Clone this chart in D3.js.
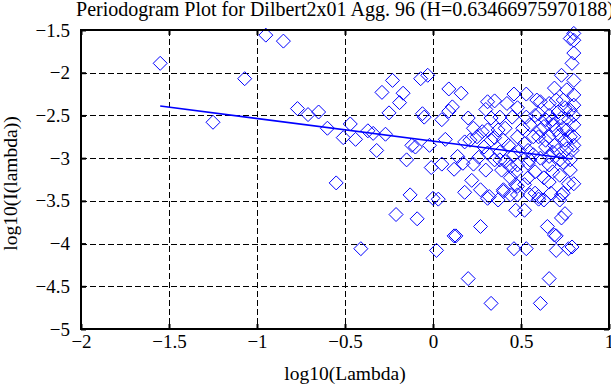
<!DOCTYPE html>
<html>
<head>
<meta charset="utf-8">
<script src="https://cdn.jsdelivr.net/npm/d3@7"></script>
<style>
  body { margin: 0; background: #fff; }
  svg { display: block; }
</style>
</head>
<body>
<div id="chart"></div>
<script>
// periodogram points (log10 of lambda, log10 of I(lambda))
var logLambda = [
  -1.55, -1.25, -1.07, -0.95, -0.85, -0.77, -0.71, -0.65, -0.60, -0.55,
  -0.51, -0.47, -0.44, -0.41, -0.37, -0.34, -0.32, -0.29, -0.27, -0.25,
  -0.23, -0.21, -0.19, -0.17, -0.15, -0.13, -0.12, -0.10, -0.09, -0.07,
  -0.03, -0.06, -0.05, -0.02, -0.01, 0.00, 0.03, 0.02, 0.05, 0.05,
  0.07, 0.09, 0.09, 0.11, 0.12, 0.12, 0.13, 0.14, 0.16, 0.17,
  0.18, 0.18, 0.20, 0.20, 0.22, 0.23, 0.23, 0.25, 0.27, 0.26,
  0.28, 0.30, 0.31, 0.29, 0.31, 0.35, 0.46, 0.53, 0.59, 0.42,
  0.48, 0.33, 0.38, 0.45, 0.53, 0.31, 0.37, 0.40, 0.33, 0.48,
  0.52, 0.57, 0.31, 0.38, 0.46, 0.49, 0.57, 0.41, 0.44, 0.48,
  0.54, 0.39, 0.47, 0.58, 0.47, 0.52, 0.40, 0.32, 0.44, 0.48,
  0.55, 0.47, 0.52, 0.46, 0.53, 0.33, 0.61, 0.65, 0.78, 0.79,
  0.73, 0.69, 0.76, 0.61, 0.66, 0.74, 0.78, 0.60, 0.66, 0.71,
  0.77, 0.63, 0.68, 0.74, 0.60, 0.66, 0.72, 0.78, 0.64, 0.69,
  0.76, 0.61, 0.66, 0.72, 0.68, 0.66, 0.77, 0.60, 0.67, 0.73,
  0.75, 0.73, 0.69, 0.70, 0.70, 0.77, 0.66, 0.80, 0.80, 0.80,
  0.80, 0.80, 0.80, 0.80, 0.80, 0.79, 0.58, 0.60, 0.63, 0.72,
  0.74, 0.48, 0.37, 0.40, 0.64, 0.70, 0.75, 0.68, 0.79, 0.73,
  0.55, 0.54, 0.41, 0.35, 0.21, 0.80, 0.64, 0.66, 0.71, 0.74,
  0.76, 0.78, 0.80, 0.55, 0.51, 0.43, 0.35, 0.61, 0.68, 0.58,
  0.75, 0.80, 0.70, 0.78, 0.72, 0.63, 0.54, 0.44, 0.38, 0.30,
  0.27
];
var logI = [
  -1.89, -2.58, -2.07, -1.56, -1.63, -2.42, -2.49, -2.46, -2.65, -3.29,
  -2.76, -2.60, -2.78, -4.06, -2.68, -2.71, -2.91, -2.23, -2.72, -2.47,
  -2.09, -3.66, -2.35, -2.24, -3.02, -3.43, -2.85, -2.87, -3.71, -2.07,
  -2.03, -2.48, -2.52, -2.85, -3.11, -3.47, -3.48, -4.08, -3.07, -2.55,
  -2.78, -2.19, -2.45, -2.40, -3.13, -3.91, -3.91, -2.98, -2.24, -3.06,
  -3.40, -2.81, -2.53, -4.41, -3.26, -2.65, -3.07, -2.75, -3.80, -2.99,
  -2.69, -2.43, -3.47, -2.87, -2.34, -2.33, -2.25, -2.25, -2.32, -2.36,
  -2.41, -2.53, -2.52, -2.52, -2.52, -2.67, -2.67, -2.79, -2.79, -2.75,
  -2.83, -2.75, -2.94, -2.93, -2.96, -2.91, -2.96, -3.04, -3.10, -3.08,
  -3.06, -3.14, -3.16, -3.16, -3.31, -3.31, -3.39, -3.45, -3.43, -3.43,
  -3.43, -3.61, -3.61, -4.06, -4.06, -4.70, -4.70, -3.80, -1.60, -1.89,
  -2.03, -2.18, -2.20, -2.34, -2.36, -2.32, -2.44, -2.48, -2.50, -2.46,
  -2.55, -2.63, -2.61, -2.65, -2.75, -2.75, -2.73, -2.75, -2.87, -2.85,
  -2.89, -3.00, -2.98, -3.02, -3.16, -3.28, -3.30, -3.45, -3.41, -3.43,
  -3.65, -3.70, -3.90, -3.91, -4.08, -4.06, -4.41, -1.54, -1.77, -2.09,
  -2.38, -2.50, -2.61, -2.75, -3.30, -4.04, -3.41, -3.48, -3.49, -3.49,
  -3.41, -3.33, -3.49, -3.37, -2.55, -2.67, -2.79, -2.93, -2.91, -2.53,
  -2.61, -2.91, -2.65, -3.02, -2.79, -1.62, -2.79, -3.08, -2.91, -3.05,
  -2.67, -3.02, -2.85, -3.02, -2.65, -2.85, -2.76, -2.67, -2.55, -2.50,
  -2.41, -2.26, -2.32, -3.14, -3.20, -3.23, -3.23, -3.23, -3.02, -3.14,
  -3.37
];

// least squares fit line end points (slope 1 - 2H)
var fitLambda = [-1.55, 0.79];
var fitI = [-2.39, -3.01];

var xTicks = [-2, -1.5, -1, -0.5, 0, 0.5, 1];
var yTicks = [-5, -4.5, -4, -3.5, -3, -2.5, -2, -1.5];

var title = "Periodogram Plot for Dilbert2x01 Agg. 96 (H=0.63466975970188)";

// sizes
var W = 611, H = 385;
var margin = { top: 30, right: 2, bottom: 56, left: 81 };
var width = W - margin.left - margin.right;
var height = H - margin.top - margin.bottom;
var font = "'Liberation Serif', 'Times New Roman', serif";

var svg = d3.select("#chart").append("svg")
    .attr("width", W)
    .attr("height", H)
    .style("font-family", font);

var g = svg.append("g")
    .attr("transform", "translate(" + margin.left + "," + margin.top + ")");

var x = d3.scaleLinear().domain([-2, 1]).range([0, width]);
var y = d3.scaleLinear().domain([-5, -1.5]).range([height, 0]);

// dashed grid
var grid = g.append("g").attr("class", "grid");
grid.selectAll(".vgrid")
  .data(xTicks.slice(1, -1))
  .enter().append("line")
    .attr("x1", function(d) { return Math.round(x(d)) + 0.5; })
    .attr("x2", function(d) { return Math.round(x(d)) + 0.5; })
    .attr("y1", 0)
    .attr("y2", height);
grid.selectAll(".hgrid")
  .data(yTicks.slice(1, -1))
  .enter().append("line")
    .attr("y1", function(d) { return Math.round(y(d)) + 0.5; })
    .attr("y2", function(d) { return Math.round(y(d)) + 0.5; })
    .attr("x1", 0)
    .attr("x2", width);
grid.selectAll("line")
  .attr("stroke", "#000")
  .attr("stroke-width", 1)
  .attr("stroke-dasharray", "6,3");

// points
var diamond = "M0,-7L7,0L0,7L-7,0Z";
g.append("g").selectAll("path")
  .data(d3.range(logLambda.length))
  .enter().append("path")
    .attr("d", diamond)
    .attr("transform", function(i) { return "translate(" + x(logLambda[i]) + "," + y(logI[i]) + ")"; })
    .attr("fill", "none")
    .attr("stroke", "#0000ff")
    .attr("stroke-width", 1);

// fit line
g.append("line")
  .attr("x1", x(fitLambda[0])).attr("y1", y(fitI[0]))
  .attr("x2", x(fitLambda[1])).attr("y2", y(fitI[1]))
  .attr("stroke", "#0000ff")
  .attr("stroke-width", 1.6);

// axes, ticks pointing inwards
var fmt = d3.format("");
var xAxis = g.append("g")
  .attr("transform", "translate(0," + height + ")")
  .call(d3.axisBottom(x).tickValues(xTicks).tickFormat(fmt).tickSizeInner(-5).tickSizeOuter(0).tickPadding(6));
var yAxis = g.append("g")
  .call(d3.axisLeft(y).tickValues(yTicks).tickFormat(fmt).tickSizeInner(-5).tickSizeOuter(0).tickPadding(11));
var topAxis = g.append("g")
  .call(d3.axisTop(x).tickValues(xTicks).tickFormat("").tickSizeInner(-5).tickSizeOuter(0));
var rightAxis = g.append("g")
  .attr("transform", "translate(" + width + ",0)")
  .call(d3.axisRight(y).tickValues(yTicks).tickFormat("").tickSizeInner(-5).tickSizeOuter(0));

[xAxis, yAxis, topAxis, rightAxis].forEach(function(a) {
  a.select(".domain").remove();
  a.selectAll("line").attr("stroke", "#000").attr("stroke-width", 2);
  a.selectAll("text")
    .attr("fill", "#000")
    .style("font-family", font)
    .style("font-size", "19px");
});

// frame
g.append("rect")
  .attr("x", 0).attr("y", 0)
  .attr("width", width).attr("height", height)
  .attr("fill", "none")
  .attr("stroke", "#000")
  .attr("stroke-width", 2);

// labels
svg.append("text")
  .attr("x", margin.left + width / 2)
  .attr("y", 16)
  .attr("text-anchor", "middle")
  .style("font-size", "20px")
  .text(title);

svg.append("text")
  .attr("x", margin.left + width / 2)
  .attr("y", 380)
  .attr("text-anchor", "middle")
  .style("font-size", "19.5px")
  .text("log10(Lambda)");

svg.append("text")
  .attr("transform", "rotate(-90)")
  .attr("x", -(margin.top + height / 2 + 4))
  .attr("y", 17)
  .attr("text-anchor", "middle")
  .style("font-size", "19.5px")
  .text("log10(I(lambda))");
</script>
</body>
</html>
